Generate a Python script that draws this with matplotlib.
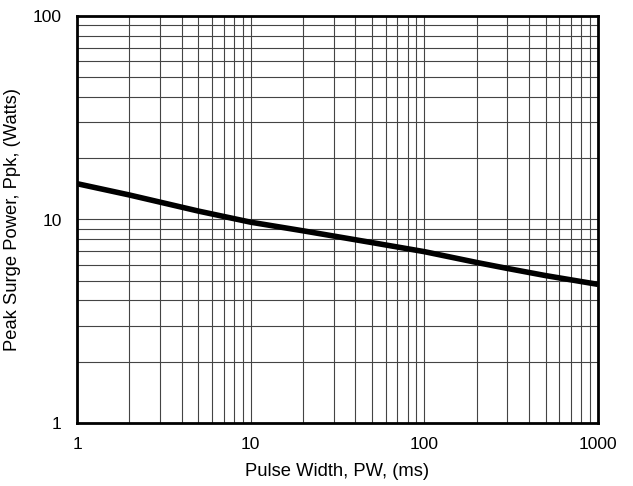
import matplotlib.pyplot as plt
from matplotlib.ticker import FixedLocator, NullFormatter

plt.rcParams['font.family'] = ['Liberation Sans', 'DejaVu Sans']

# Data
pulse_width = [1, 2, 5, 10, 20, 50, 100, 200, 300, 500, 1000]
peak_power = [15.0, 13.2, 11.0, 9.7, 8.8, 7.7, 6.95, 6.15, 5.75, 5.3, 4.8]

x_ticks = [1, 10, 100, 1000]
y_ticks = [1, 10, 100]

fig = plt.figure(figsize=(6.33, 4.86), dpi=100)
ax = fig.add_axes([77 / 633, 1 - 423 / 486, (598 - 77) / 633, (423 - 16) / 486])

ax.plot(pulse_width, peak_power, color='black', linewidth=4, solid_capstyle='butt', zorder=3)

ax.set_xscale('log')
ax.set_yscale('log')
ax.set_xlim(1, 1000)
ax.set_ylim(1, 100)

ax.xaxis.set_major_locator(FixedLocator(x_ticks))
ax.yaxis.set_major_locator(FixedLocator(y_ticks))
ax.set_xticklabels([str(v) for v in x_ticks])
ax.set_yticklabels([str(v) for v in y_ticks])
ax.xaxis.set_minor_formatter(NullFormatter())
ax.yaxis.set_minor_formatter(NullFormatter())

ax.grid(True, which='both', color='#444444', linewidth=0.8)
ax.tick_params(which='both', length=0, labelsize=12.5)
ax.tick_params(axis='x', pad=10)
ax.tick_params(axis='y', pad=11)

for s in ax.spines.values():
    s.set_linewidth(2)
    s.set_color('black')

ax.set_xlabel('Pulse Width, PW, (ms)', fontsize=13.2, labelpad=8)
ax.set_ylabel('Peak Surge Power, Ppk, (Watts)', fontsize=13.2)
ax.yaxis.set_label_coords(-(77 - 21) / 521, 0.5)

fig.savefig('out.png', dpi=100)
